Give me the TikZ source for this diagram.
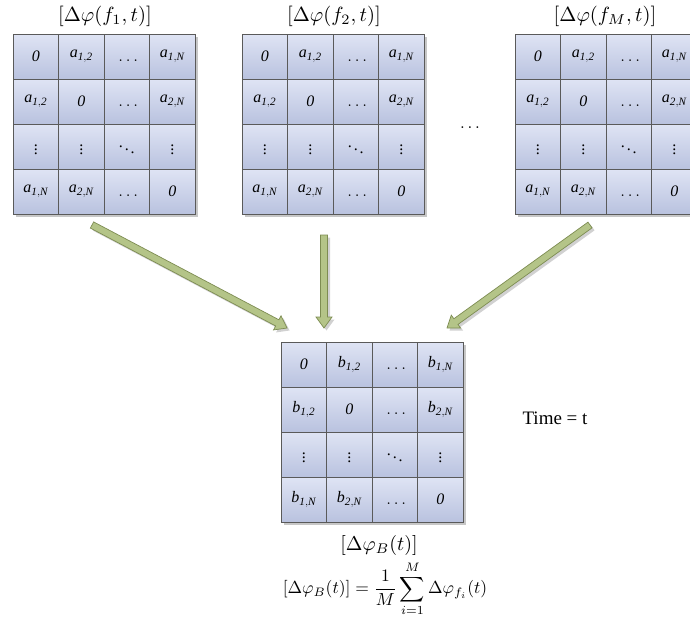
\documentclass[tikz,border=0pt]{standalone}
\usepackage{graphicx}
\usepackage{fontspec}
\setmainfont{Liberation Serif}
\usetikzlibrary{calc}
\definecolor{cellTop}{HTML}{DFE4F4}
\definecolor{cellBot}{HTML}{B9C2DF}
\definecolor{cellLine}{HTML}{5A5A5A}
\definecolor{arrFill}{HTML}{B4C488}
\definecolor{arrLine}{HTML}{7D8C52}
\tikzset{
  cellbox/.style={draw=cellLine, line width=0.8pt, top color=cellTop, bottom color=cellBot},
  ctext/.style={inner sep=0pt, font=\fontsize{16}{18}\selectfont},
  lbl/.style={inner sep=0pt},
  mshadow/.style={fill=black!22},
  arrbody/.style={fill=arrFill, draw=arrLine, line width=0.7pt},
  arrshadow/.style={fill=black!18, transform canvas={xshift=2.5pt,yshift=-2.5pt}}
}
\newcommand\celldots{$\vphantom{\mathit{a}0}\ldots$}
% #1 name, #2 left, #3 top, #4 letter
\newcommand\cellgrid[4]{%
  \fill[mshadow] (#2+3,#3+3) rectangle (#2+185,#3+183);
  \foreach \r in {0,...,3}{\foreach \c in {0,...,3}{
    \shade[cellbox] (#2+45.5*\c,#3+45*\r) rectangle (#2+45.5*\c+45.5,#3+45*\r+45);
  }}
  \node[ctext] (#1-1-1) at (#2+22.75,#3+22.5) {\textit{0}};
  \node[ctext] (#1-1-2) at (#2+68.25,#3+22.5) {$\mathit{#4}_{\mathit{1,2}}$};
  \node[ctext] (#1-1-3) at (#2+113.75,#3+22.5) {\celldots};
  \node[ctext] (#1-1-4) at (#2+159.25,#3+22.5) {$\mathit{#4}_{\mathit{1,N}}$};
  \node[ctext] (#1-2-1) at (#2+22.75,#3+67.5) {$\mathit{#4}_{\mathit{1,2}}$};
  \node[ctext] (#1-2-2) at (#2+68.25,#3+67.5) {\textit{0}};
  \node[ctext] (#1-2-3) at (#2+113.75,#3+67.5) {\celldots};
  \node[ctext] (#1-2-4) at (#2+159.25,#3+67.5) {$\mathit{#4}_{\mathit{2,N}}$};
  \node[ctext] (#1-3-1) at (#2+22.75,#3+112.5) {$\vdots$};
  \node[ctext] (#1-3-2) at (#2+68.25,#3+112.5) {$\vdots$};
  \node[ctext] (#1-3-3) at (#2+113.75,#3+112.5) {$\ddots$};
  \node[ctext] (#1-3-4) at (#2+159.25,#3+112.5) {$\vdots$};
  \node[ctext] (#1-4-1) at (#2+22.75,#3+157.5) {$\mathit{#4}_{\mathit{1,N}}$};
  \node[ctext] (#1-4-2) at (#2+68.25,#3+157.5) {$\mathit{#4}_{\mathit{2,N}}$};
  \node[ctext] (#1-4-3) at (#2+113.75,#3+157.5) {\celldots};
  \node[ctext] (#1-4-4) at (#2+159.25,#3+157.5) {\textit{0}};
}
\newcommand\blkarrow[2]{%
  \coordinate (ah) at ($(#2)!11pt!(#1)$);
  \foreach \sty in {arrshadow,arrbody}{
    \path[\sty] ($(#1)!3.5pt!90:(#2)$) -- ($(ah)!3.5pt!90:(#2)$) -- ($(ah)!8pt!90:(#2)$)
      -- (#2) -- ($(ah)!8pt!-90:(#2)$) -- ($(ah)!3.5pt!-90:(#2)$) -- ($(#1)!3.5pt!-90:(#2)$) -- cycle;
  }
}
\begin{document}
\begin{tikzpicture}[x=1pt,y=-1pt]
\useasboundingbox (0,0) rectangle (690,619);
\cellgrid{ma}{13}{34}{a}
\cellgrid{mb}{242}{34}{a}
\cellgrid{mc}{515}{34}{a}
\cellgrid{mr}{281}{342}{b}
\node[lbl] (ta) at (105,16) {\scalebox{2.05}{$[\Delta\varphi(f_1,t)]$}};
\node[lbl] (tb) at (334,16) {\scalebox{2.05}{$[\Delta\varphi(f_2,t)]$}};
\node[lbl] (tc) at (605,16) {\scalebox{2.05}{$[\Delta\varphi(f_M,t)]$}};
\node[lbl] (dots) at (470,128) {\scalebox{1.7}{$\ldots$}};
\node[lbl] (tr) at (379,545) {\scalebox{2.0}{$[\Delta\varphi_B(t)]$}};
\node[lbl] (form) at (385,589) {\scalebox{1.75}{$\displaystyle[\Delta\varphi_B(t)]=\frac{1}{M}\sum_{i=1}^{M}\Delta\varphi_{f_i}(t)$}};
\node[lbl, font=\fontsize{19}{22}\selectfont] (time) at (555,418) {Time = t};
\coordinate (a1s) at (92,225);
\coordinate (a1e) at (287,328);
\coordinate (a2s) at (324,235);
\coordinate (a2e) at (324,328);
\coordinate (a3s) at (590,225);
\coordinate (a3e) at (447,328);
\blkarrow{a1s}{a1e}
\blkarrow{a2s}{a2e}
\blkarrow{a3s}{a3e}
\end{tikzpicture}
\end{document}
